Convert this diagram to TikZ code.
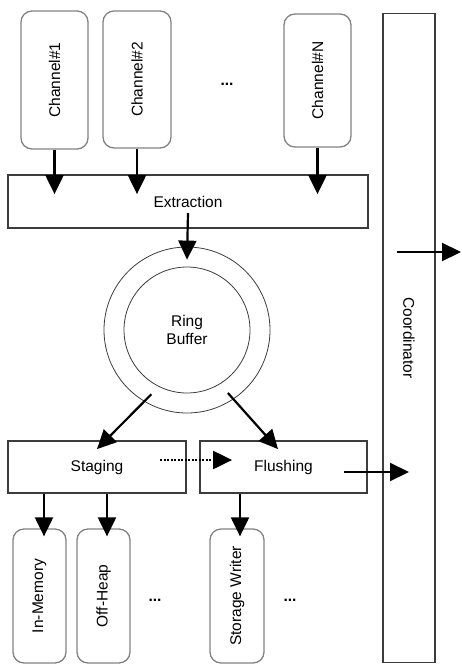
\documentclass[tikz,border=0pt]{standalone}
\usepackage{fontspec}
\setmainfont{Liberation Sans}
\usepackage{tikz}
\usetikzlibrary{arrows.meta, calc}
\definecolor{edge}{RGB}{60, 60, 60}
\definecolor{soft}{RGB}{130, 130, 130}

\begin{document}
\begin{tikzpicture}[x=1pt, y=-1pt,
  font=\fontsize{15.5}{18.5}\selectfont,
  stage/.style={draw=edge, line width=1.8pt, inner sep=0pt},
  chan/.style={draw=soft, line width=1.3pt, rounded corners=11pt, rotate=90, inner sep=0pt},
  ringline/.style={draw=edge, line width=0.8pt, circle, inner sep=0pt},
  flow/.style={-{Triangle[length=19pt,width=18pt]}, line width=2.2pt}]

\useasboundingbox (0,0) rectangle (461,664);

\node[chan, minimum width=138pt, minimum height=67pt] (ch1) at (54.5,80) {Channel\#1};
\node[chan, minimum width=137pt, minimum height=68pt] (ch2) at (137,79.5) {Channel\#2};
\node[chan, minimum width=133pt, minimum height=67pt] (chN) at (317.5,80.5) {Channel\#N};
\node (dotsA) at (227,84) {\textbf{...}};

\node[stage, minimum width=360pt, minimum height=53pt] (extraction) at (188,201.5) {Extraction};

\node[ringline, minimum size=166pt] (ring) at (187,330) {};
\node[ringline, minimum size=126pt, align=center] (core) at (187,330) {Ring\\Buffer};

\node[stage, minimum width=178pt, minimum height=52pt] (staging) at (97,467) {Staging};
\node[stage, minimum width=167pt, minimum height=52pt] (flushing) at (283.5,467) {Flushing};

\node[stage, rotate=-90, minimum width=649pt, minimum height=52pt] (coordinator) at (409,338) {Coordinator};

\node[chan, minimum width=134pt, minimum height=53pt] (inmem) at (39.5,596) {In-Memory};
\node[chan, minimum width=134pt, minimum height=53pt] (offheap) at (103.5,596) {Off-Heap};
\node[chan, minimum width=134pt, minimum height=54pt] (writer) at (237,596) {Storage Writer};
\node (dotsB) at (155,600) {\textbf{...}};
\node (dotsC) at (290,600) {\textbf{...}};

\coordinate (out) at (461,252);

\draw[flow, shorten >=-20pt] (ch1) -- (ch1 |- extraction.north);
\draw[flow, shorten >=-20pt] (ch2) -- (ch2 |- extraction.north);
\draw[flow, shorten >=-20pt] (chN) -- (chN |- extraction.north);

\draw[flow] ($(extraction.center)+(0,11.5)$) -- ($(ring.north)+(0,13)$);

\draw[flow] ($(ring.center)!0.88!(ring.241)$) -- ($(staging.north)+(0,9)$);
\draw[flow] ($(ring.center)!0.9!(ring.303)$) -- ($(flushing.north)+(-5.5,9)$);

\draw[flow, dash pattern=on 2pt off 1.5pt] ($(staging.center)+(63,-7)$) -- ($(flushing.west)+(33,-7)$);
\draw[flow] ($(flushing.center)+(60.5,5)$) -- ($(flushing.center -| coordinator.center)+(0,5)$);
\draw[flow, shorten <=-12pt] (coordinator.center |- out) -- (out);

\draw[flow] ($(staging.south -| inmem.east)+(4.5,0)$) -- ($(inmem.east)+(4.5,8)$);
\draw[flow] ($(staging.south -| offheap.east)+(3.5,0)$) -- ($(offheap.east)+(3.5,8)$);
\draw[flow] ($(flushing.south -| writer.east)+(3,0)$) -- ($(writer.east)+(3,8)$);

\end{tikzpicture}
\end{document}
